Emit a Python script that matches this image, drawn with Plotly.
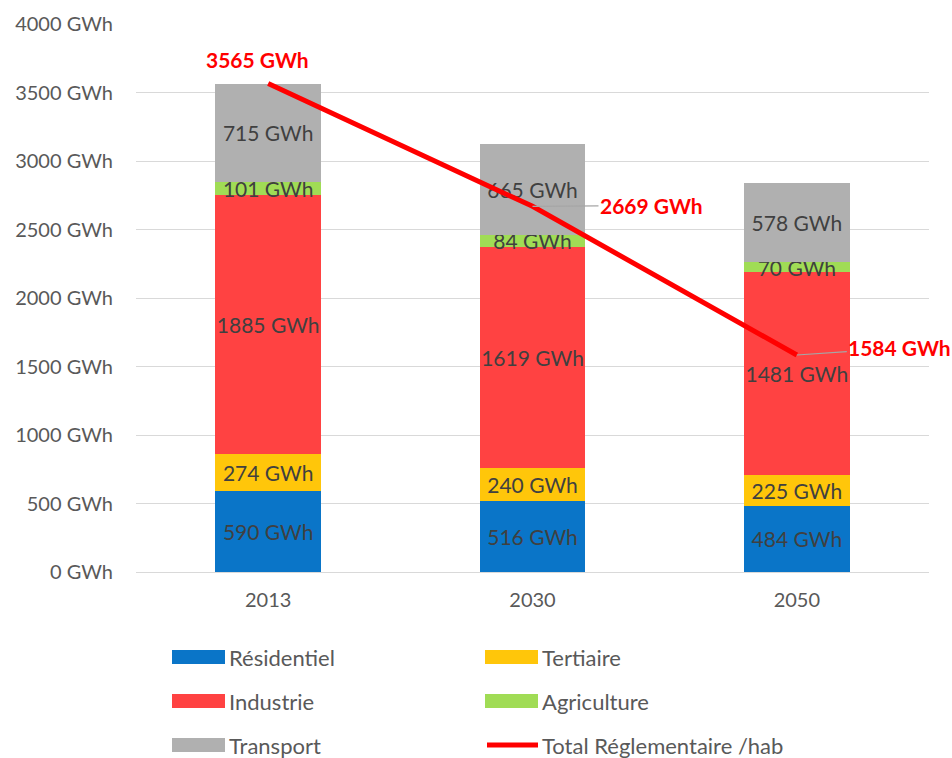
import plotly.graph_objects as go

# Energy consumption by sector (GWh)
years = ["2013", "2030", "2050"]
sectors = ["Résidentiel", "Tertiaire", "Industrie", "Agriculture", "Transport"]
residentiel = [590, 516, 484]
tertiaire = [274, 240, 225]
industrie = [1885, 1619, 1481]
agriculture = [101, 84, 70]
transport = [715, 665, 578]
total_reglementaire = [3565, 2669, 1584]
total_name = "Total Réglementaire /hab"

sector_values = [residentiel, tertiaire, industrie, agriculture, transport]
sector_colors = ["#0A75C8", "#FFC60A", "#FF4242", "#A0DC55", "#B0B0B0"]

FONT = "Lato"
TXT = "#595959"
W, H = 952, 758
ML, MR, MT, MB = 136, 23, 24, 186

fig = go.Figure()

for name, vals, col in zip(sectors, sector_values, sector_colors):
    fig.add_trace(go.Bar(
        x=years, y=vals, name=name,
        marker=dict(color=col, line=dict(width=0)),
        text=[f"{v} GWh" for v in vals],
        textposition="inside", insidetextanchor="middle", textangle=0,
        textfont=dict(family=FONT, size=21, color="#404040"),
        showlegend=False,
    ))

fig.add_trace(go.Scatter(
    x=years, y=total_reglementaire, name=total_name, mode="lines",
    line=dict(color="#FF0000", width=5), showlegend=False,
))

# Labels on the total line (category index used as x position)
label_font = dict(family="Lato", size=21, color="#FF0000")
offsets = [(-11, None), (119, -1), (103, -7)]
for idx, (v, (dx, dy)) in enumerate(zip(total_reglementaire, offsets)):
    if dy is None:
        fig.add_annotation(x=idx, y=v, text=f"<b>{v} GWh</b>", showarrow=False,
                           xshift=dx, yshift=24, font=label_font)
    else:
        fig.add_annotation(x=idx, y=v, text=f"<b>{v} GWh</b>", showarrow=True,
                           ax=dx, ay=dy, arrowhead=0, arrowwidth=1.2,
                           arrowcolor="#A6A6A6", standoff=0, font=label_font)

# Legend drawn as a two-column grid below the plot
plot_w = W - ML - MR
plot_h = H - MT - MB


def px_x(px):
    return (px - ML) / plot_w


def px_y(py):
    return (H - MB - py) / plot_h


legend_items = list(zip(sectors, sector_colors, ["bar"] * 5)) + [(total_name, "#FF0000", "line")]
col_x = [172, 485]
row_y = [657, 701, 745]
for i, (name, col, kind) in enumerate(legend_items):
    x0 = col_x[i % 2]
    yc = row_y[i // 2]
    if kind == "bar":
        fig.add_shape(type="rect", xref="paper", yref="paper",
                      x0=px_x(x0), x1=px_x(x0 + 53), y0=px_y(yc + 7), y1=px_y(yc - 7),
                      fillcolor=col, line=dict(width=0))
    else:
        fig.add_shape(type="line", xref="paper", yref="paper",
                      x0=px_x(x0 + 2), x1=px_x(x0 + 53), y0=px_y(yc), y1=px_y(yc),
                      line=dict(color=col, width=5))
    fig.add_annotation(xref="paper", yref="paper", x=px_x(x0 + 55), y=px_y(yc),
                       text=name, showarrow=False, xanchor="left", yanchor="middle",
                       font=dict(family=FONT, size=22, color=TXT))

fig.update_layout(
    barmode="stack", bargap=0.6,
    width=W, height=H,
    margin=dict(l=ML, r=MR, t=MT, b=MB),
    paper_bgcolor="white", plot_bgcolor="white",
    font=dict(family=FONT, size=20, color=TXT),
    uniformtext=dict(minsize=21, mode="show"),
    showlegend=False,
)
fig.update_yaxes(range=[0, 4000], dtick=500, ticksuffix=" GWh",
                 showgrid=True, gridcolor="#D9D9D9", gridwidth=1,
                 zeroline=True, zerolinecolor="#D9D9D9", zerolinewidth=1,
                 showline=False, ticks="", ticklabelstandoff=22,
                 tickfont=dict(family=FONT, size=20, color=TXT))
fig.update_xaxes(type="category", range=[-0.5, 2.5], showgrid=False,
                 showline=False, ticks="", ticklabelstandoff=14,
                 tickfont=dict(family=FONT, size=20, color=TXT))

fig.write_html("out.html")
